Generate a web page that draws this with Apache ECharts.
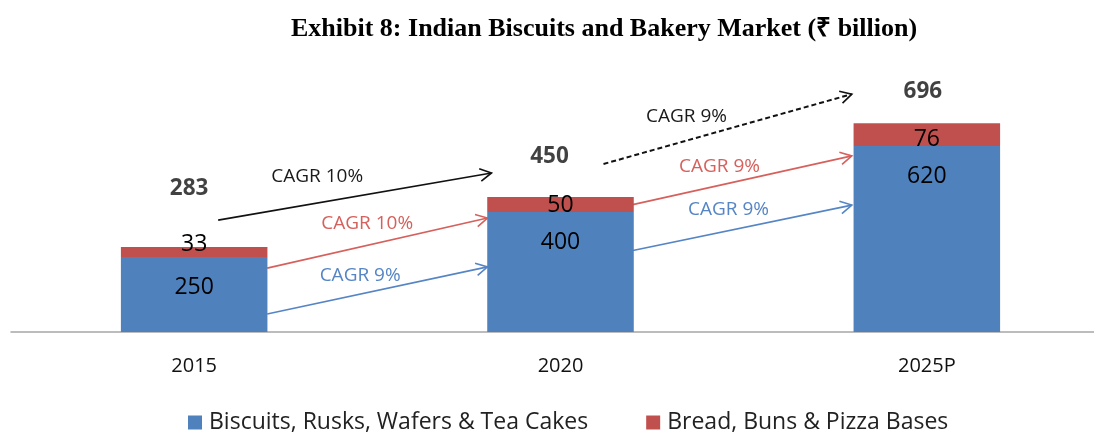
<!DOCTYPE html>
<html><head><meta charset="utf-8">
<script src="https://cdn.jsdelivr.net/npm/echarts@6/dist/echarts.min.js"></script>
<style>html,body{margin:0;padding:0;background:#fff}#c{width:1094px;height:432px}</style>
</head><body><div id="c"></div>
<script>
// ---- data ----
const categories = ['2015', '2020', '2025P'];
const biscuits = [250, 400, 620];
const bread = [33, 50, 76];
const seriesNames = ['Biscuits, Rusks, Wafers & Tea Cakes', 'Bread, Buns & Pizza Bases'];
const titleText = 'Exhibit 8: Indian Biscuits and Bakery Market (\u20B9 billion)';
const totals = categories.map((c, i) => biscuits[i] + bread[i]);

// ---- annotations (arrows: from category/value to category/value, with pixel nudge) ----
const arrows = [
  { from: [0, 73, 60],  to: [1, -73, 217], color: '#5585c5', dash: false, label: 'CAGR 9%',  lab: [0, 166, 187] },
  { from: [0, 73, 213], to: [1, -73, 380], color: '#d6605c', dash: false, label: 'CAGR 10%', lab: [0, 173, 363] },
  { from: [0, 24, 373], to: [1, -69, 530], color: '#111111', dash: false, label: 'CAGR 10%', lab: [0, 123, 517] },
  { from: [1, 70, 270], to: [2, -75, 423], color: '#5585c5', dash: false, label: 'CAGR 9%',  lab: [1, 168, 407] },
  { from: [1, 70, 423], to: [2, -75, 587], color: '#d6605c', dash: false, label: 'CAGR 9%',  lab: [1, 159, 550] },
  { from: [1, 43, 560], to: [2, -75, 793], color: '#111111', dash: true,  label: 'CAGR 9%',  lab: [1, 126, 717] }
];
const totalOffsets = [[-5, -59], [-11, -40], [-4, -32]];
const breadOffsets = [[0, -8], [0, 1], [0, 5]];

const FONT = 'Open Sans';
const chart = echarts.init(document.getElementById('c'));
const option = {
  animation: false,
  backgroundColor: '#fff',
  title: {
    text: titleText, left: 286, top: 11,
    textStyle: { fontFamily: 'Liberation Serif', fontWeight: 'bold', fontSize: 26, color: '#000' }
  },
  legend: {
    left: 183, top: 406, itemWidth: 14, itemHeight: 14, itemGap: 58,
    icon: 'rect',
    textStyle: { fontFamily: FONT, fontSize: 23, color: '#222', padding: [0, 0, 0, 2] },
    data: seriesNames
  },
  grid: { left: 11, top: 92, width: 1099, height: 240, outerBoundsMode: 'none', containLabel: false },
  xAxis: {
    type: 'category', data: categories,
    axisLine: { lineStyle: { color: '#a6a6a6', width: 1.5 } },
    axisTick: { length: 8, lineStyle: { color: '#a6a6a6', width: 1.5 } },
    axisLabel: { fontFamily: FONT, fontSize: 20, color: '#111', margin: 24 }
  },
  yAxis: { type: 'value', min: 0, max: 800, show: false, splitLine: { show: false } },
  series: [
    {
      name: seriesNames[0], type: 'bar', stack: 'a', barWidth: '40%', data: biscuits,
      itemStyle: { color: '#4f81bd' },
      label: { show: true, position: 'insideTop', distance: 19, fontFamily: FONT, fontSize: 23, color: '#000' }
    },
    {
      name: seriesNames[1], type: 'bar', stack: 'a', barWidth: '40%',
      data: bread.map((v, i) => ({ value: v, label: { offset: breadOffsets[i] } })),
      itemStyle: { color: '#c0504d' },
      label: { show: true, position: 'inside', fontFamily: FONT, fontSize: 23, color: '#000' }
    },
    {
      type: 'scatter', symbolSize: 1, itemStyle: { color: 'rgba(0,0,0,0)' }, silent: true,
      data: totals.map((v, i) => ({ value: v, label: { offset: totalOffsets[i] } })),
      label: { show: true, position: 'inside', fontFamily: FONT, fontWeight: 'bold', fontSize: 22.5, color: '#111',
               formatter: p => p.value }
    }
  ]
};
chart.setOption(option);

function px(a) {
  const p = chart.convertToPixel({ xAxisIndex: 0, yAxisIndex: 0 }, [a[0], a[2]]);
  return [p[0] + a[1], p[1]];
}
const graphics = [];
arrows.forEach(ar => {
  const p0 = px(ar.from), p1 = px(ar.to);
  const ang = Math.atan2(p1[1] - p0[1], p1[0] - p0[0]);
  const L = 13, spread = 0.5;
  const w1 = [p1[0] - L * Math.cos(ang - spread), p1[1] - L * Math.sin(ang - spread)];
  const w2 = [p1[0] - L * Math.cos(ang + spread), p1[1] - L * Math.sin(ang + spread)];
  graphics.push({ type: 'polyline', silent: true, shape: { points: [p0, p1] },
    style: { stroke: ar.color, lineWidth: ar.dash ? 2 : 1.6, lineDash: ar.dash ? [5, 3] : null, fill: null } });
  graphics.push({ type: 'polyline', silent: true, shape: { points: [w1, p1, w2] },
    style: { stroke: ar.color, lineWidth: 1.6, fill: null } });
  const lp = px(ar.lab);
  graphics.push({ type: 'text', silent: true, x: lp[0], y: lp[1],
    style: { text: ar.label, fill: ar.color === '#111111' ? '#1a1a1a' : ar.color, font: '19px "' + FONT + '"',
             align: 'center', verticalAlign: 'middle' } });
});
chart.setOption({ graphic: graphics });
</script></body></html>
